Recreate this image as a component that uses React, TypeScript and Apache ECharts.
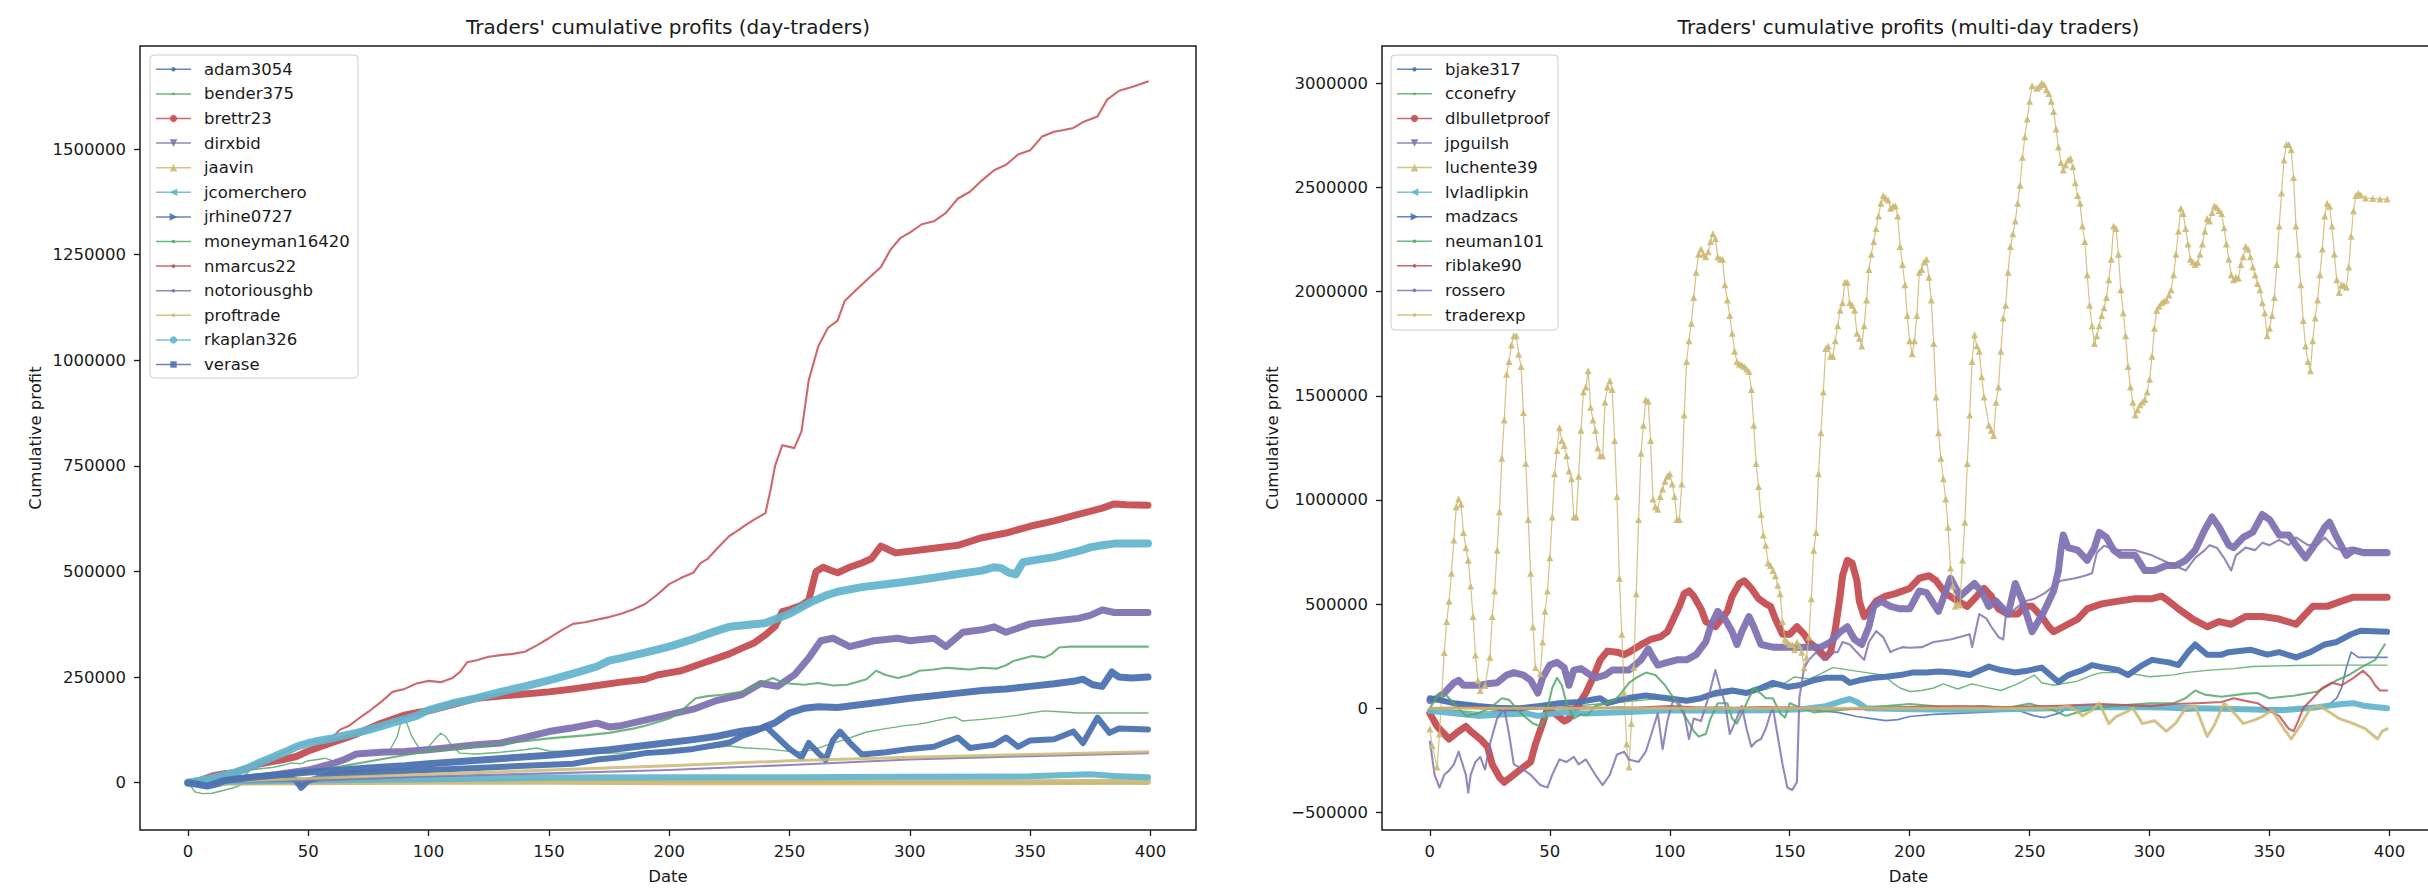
import React, { useEffect, useRef } from "react";
import * as echarts from "echarts";

// ---------- DATA (day, cumulative profit in thousands) ----------
// Left panel: day-traders
const adam3054 = [[0,0],[5,-8],[10,-12],[15,-5],[20,0],[30,1],[40,2],[47,-8],[50,2],[60,3],[80,4],[100,5],[150,5],[200,3],[250,2],[300,2],[350,0],[399,-2]];
const bender375 = [[0,0],[3,-22],[6,-26],[10,-25],[15,-18],[19,-12],[22,-5],[24,20],[26,30],[30,33],[35,36],[40,42],[43,47],[47,45],[50,52],[54,55],[57,58],[60,52],[64,48],[67,58],[70,65],[75,68],[80,72],[84,78],[87,110],[89,155],[91,140],[93,110],[96,82],[100,85],[103,105],[105,117],[107,110],[110,85],[113,70],[120,68],[130,72],[140,78],[145,82],[150,75],[160,72],[170,70],[180,70],[190,72],[200,75],[210,78],[220,84],[225,87],[232,82],[240,80],[247,76],[253,72],[258,76],[262,82],[267,92],[272,100],[277,110],[282,120],[290,128],[298,135],[303,138],[307,142],[312,148],[316,153],[319,155],[322,146],[326,148],[330,150],[337,154],[345,160],[350,165],[356,170],[362,168],[370,165],[380,165],[390,165],[399,165]];
const brettr23 = [[0,0],[5,5],[10,12],[15,20],[20,25],[25,35],[30,45],[35,50],[40,55],[45,62],[50,75],[55,85],[60,95],[65,105],[70,115],[75,128],[80,140],[85,150],[90,160],[95,166],[100,170],[110,185],[120,200],[130,205],[140,210],[150,215],[160,222],[170,230],[180,238],[190,245],[195,255],[200,260],[205,265],[210,275],[215,285],[220,295],[225,305],[230,318],[235,330],[240,350],[244,370],[247,405],[250,410],[255,420],[258,432],[261,500],[264,510],[267,503],[270,497],[275,510],[280,520],[284,530],[288,560],[291,552],[294,544],[300,548],[310,555],[320,562],[330,580],[340,591],[350,607],[360,620],[370,635],[380,650],[385,660],[390,658],[399,657]];
const dirxbid = [[0,0],[10,3],[20,8],[30,14],[40,22],[50,30],[60,45],[65,55],[70,68],[80,72],[90,74],[100,78],[110,84],[115,87],[120,90],[130,94],[140,107],[150,121],[160,130],[170,141],[175,132],[180,135],[190,148],[200,161],[210,174],[220,195],[230,208],[238,235],[245,228],[252,255],[258,295],[263,336],[268,342],[275,322],[285,336],[295,342],[300,336],[310,342],[315,322],[322,356],[330,362],[335,369],[340,356],[350,376],[360,383],[370,389],[375,396],[380,409],[385,403],[399,403]];
const jaavin = [[0,0],[50,1],[100,2],[150,2],[200,1],[250,1],[300,1],[350,1],[399,2]];
const jcomerchero = [[0,0],[20,3],[50,5],[100,8],[150,12],[200,13],[250,13],[300,14],[350,15],[365,18],[375,20],[385,16],[399,13]];
const jrhine0727 = [[0,0],[10,5],[20,10],[30,15],[40,18],[45,5],[47,-12],[50,5],[60,20],[80,25],[100,30],[120,35],[140,40],[160,45],[170,55],[180,60],[190,70],[200,74],[210,80],[220,90],[225,95],[230,110],[235,120],[240,134],[245,107],[250,80],[255,60],[258,94],[262,70],[265,54],[268,100],[271,121],[275,95],[280,67],[290,72],[300,80],[310,85],[320,107],[325,82],[335,90],[340,107],[345,85],[350,100],[360,103],[368,121],[372,94],[378,154],[383,118],[387,128],[399,126]];
const moneyman16420 = [[0,0],[25,10],[50,25],[75,50],[100,75],[110,80],[125,90],[140,98],[150,105],[165,112],[175,118],[185,128],[190,135],[196,145],[200,152],[204,165],[208,185],[211,200],[216,205],[222,208],[230,215],[236,228],[240,240],[243,248],[247,238],[250,235],[256,232],[262,236],[268,230],[274,232],[282,245],[286,265],[290,255],[295,248],[300,255],[304,265],[310,268],[315,272],[320,270],[325,268],[330,272],[336,270],[340,278],[343,288],[347,294],[351,300],[356,296],[359,305],[362,320],[366,322],[372,322],[380,322],[390,322],[399,322]];
const nmarcus22 = [[0,0],[5,12],[10,22],[15,27],[20,26],[25,35],[30,48],[35,60],[40,72],[45,85],[50,95],[55,100],[60,107],[63,125],[67,135],[71,152],[75,168],[80,190],[85,215],[90,222],[95,235],[100,241],[105,238],[110,248],[113,262],[116,285],[120,290],[125,298],[130,302],[135,305],[140,310],[145,325],[150,342],[155,360],[160,376],[165,380],[170,386],[175,392],[180,400],[185,410],[190,423],[195,445],[200,470],[205,485],[210,497],[213,520],[216,530],[220,555],[225,584],[228,595],[232,611],[236,625],[240,638],[242,690],[244,750],[247,799],[250,795],[252,792],[255,832],[258,953],[262,1034],[266,1077],[270,1094],[273,1141],[278,1168],[283,1195],[288,1221],[292,1262],[296,1289],[300,1302],[305,1322],[310,1329],[315,1349],[320,1383],[325,1399],[330,1426],[335,1450],[340,1463],[345,1487],[350,1497],[355,1530],[360,1541],[364,1545],[368,1550],[372,1564],[378,1577],[382,1617],[387,1638],[393,1648],[399,1660]];
const notoriousghb = [[0,0],[50,5],[100,15],[150,22],[200,30],[250,42],[300,55],[350,63],[399,70]];
const proftrade = [[0,0],[50,10],[100,20],[150,30],[200,40],[250,52],[300,60],[350,67],[399,73]];
const rkaplan326 = [[0,0],[5,5],[10,10],[15,18],[20,25],[25,35],[30,48],[35,60],[40,72],[45,85],[50,94],[55,100],[60,105],[65,112],[70,118],[75,125],[80,133],[85,142],[90,150],[95,158],[100,172],[110,188],[120,200],[130,215],[140,228],[150,242],[160,258],[170,275],[175,289],[180,295],[190,308],[200,322],[210,340],[220,360],[225,369],[230,372],[240,378],[250,400],[258,425],[265,443],[270,452],[280,463],[290,470],[300,477],[310,485],[320,494],[330,502],[335,510],[338,508],[341,498],[344,493],[347,522],[350,525],[360,534],[370,548],[375,557],[380,562],[385,566],[399,566]];
const verase = [[0,0],[8,-8],[15,5],[25,12],[40,20],[50,25],[60,28],[75,35],[90,40],[100,45],[125,55],[150,65],[175,78],[200,95],[210,102],[220,110],[230,122],[238,128],[244,142],[250,165],[256,176],[262,180],[270,178],[280,185],[290,192],[300,200],[310,206],[320,212],[330,218],[340,222],[350,228],[360,234],[368,240],[372,245],[376,232],[380,228],[384,262],[387,250],[392,248],[399,250]];

// Right panel: multi-day traders
const bjake317 = [[0,36],[5,45],[10,30],[20,15],[30,10],[40,5],[50,0],[60,-5],[70,0],[80,5],[90,0],[100,-5],[110,0],[120,5],[130,0],[140,-5],[150,0],[160,-10],[170,-20],[178,-40],[184,-50],[190,-60],[195,-55],[200,-40],[210,-30],[220,-25],[232,-19],[245,-10],[252,-37],[256,-45],[262,-25],[266,0],[275,11],[290,5],[305,0],[315,-13],[330,-5],[350,0],[365,-5],[374,10],[378,48],[380,97],[382,195],[384,269],[387,244],[399,244]];
const cconefry = [[0,0],[10,-10],[20,-20],[30,-15],[40,-5],[50,0],[60,10],[70,20],[80,30],[90,40],[100,50],[110,40],[120,60],[130,80],[140,90],[148,120],[152,150],[158,140],[162,160],[168,195],[175,183],[182,171],[189,159],[193,120],[196,97],[200,80],[205,85],[210,97],[214,117],[220,92],[226,117],[232,100],[238,85],[245,117],[252,159],[255,122],[260,110],[270,130],[276,159],[280,171],[290,171],[300,151],[310,160],[315,171],[325,183],[335,190],[343,200],[360,205],[375,207],[399,207]];
const dlbulletproof = [[0,-25],[3,-87],[6,-124],[8,-148],[12,-111],[15,-87],[17,-111],[21,-148],[24,-185],[26,-270],[29,-332],[31,-356],[35,-320],[39,-283],[42,-258],[44,-173],[47,-74],[49,-1],[52,-25],[56,-62],[58,-50],[61,-1],[65,73],[68,146],[71,232],[74,274],[78,269],[81,257],[83,269],[88,305],[92,330],[96,342],[99,367],[101,416],[104,489],[106,550],[108,563],[110,538],[113,477],[115,416],[119,391],[124,465],[126,538],[129,599],[131,612],[134,575],[137,526],[140,501],[142,489],[144,428],[147,355],[150,355],[153,391],[156,355],[158,318],[162,281],[165,244],[167,269],[169,379],[171,538],[172,636],[174,710],[176,697],[178,612],[179,514],[181,440],[183,465],[186,514],[190,538],[194,550],[200,575],[204,624],[208,636],[211,612],[215,550],[220,514],[224,489],[228,538],[231,575],[234,538],[237,477],[241,452],[245,452],[248,489],[251,489],[255,440],[258,391],[260,367],[264,391],[270,428],[274,477],[280,501],[287,514],[294,526],[301,526],[305,538],[308,514],[312,477],[318,428],[324,391],[329,416],[334,403],[340,440],[347,440],[354,428],[361,403],[364,440],[368,489],[374,489],[380,514],[385,533],[399,533]];
const jpguilsh = [[0,36],[3,48],[6,73],[10,122],[12,134],[14,110],[17,110],[21,110],[24,117],[28,122],[32,159],[35,171],[39,159],[42,134],[45,73],[47,146],[50,207],[53,220],[56,195],[58,110],[60,183],[63,190],[67,159],[69,146],[73,159],[76,183],[80,183],[83,183],[88,232],[91,285],[93,244],[95,207],[99,220],[103,232],[107,232],[111,257],[115,318],[117,391],[120,465],[123,428],[126,367],[128,306],[130,367],[133,440],[135,391],[138,306],[143,293],[147,293],[152,293],[158,293],[163,293],[167,318],[171,367],[174,391],[177,330],[180,306],[183,391],[185,489],[188,514],[192,489],[196,477],[200,477],[204,563],[207,555],[212,465],[217,624],[221,538],[227,599],[230,560],[233,489],[236,514],[241,452],[244,599],[247,514],[251,367],[256,465],[260,563],[262,661],[263,759],[264,832],[266,771],[270,759],[274,710],[277,771],[279,845],[282,820],[285,759],[288,734],[294,734],[298,661],[302,661],[307,685],[311,685],[315,710],[319,759],[323,857],[326,918],[329,869],[333,783],[335,771],[339,820],[343,845],[347,930],[350,906],[354,832],[358,832],[361,783],[365,722],[368,771],[373,869],[375,893],[378,820],[382,734],[385,759],[389,747],[399,747]];
const luchente39 = [[0,-100],[1,-180],[3,-283],[4,-124],[6,268],[7,416],[8,514],[9,648],[10,808],[11,967],[12,1004],[13,979],[14,844],[15,771],[16,710],[17,587],[18,440],[19,256],[20,134],[21,85],[23,109],[25,244],[26,440],[27,563],[28,759],[29,943],[30,1200],[31,1384],[32,1604],[33,1665],[34,1744],[35,1788],[36,1788],[37,1700],[38,1641],[39,1420],[40,1175],[41,906],[42,648],[43,391],[44,195],[46,165],[47,318],[48,465],[49,563],[50,722],[51,918],[52,1126],[53,1237],[54,1347],[55,1286],[56,1261],[57,1212],[58,1139],[59,1102],[60,918],[61,918],[62,1114],[63,1335],[64,1518],[65,1543],[66,1621],[67,1445],[68,1384],[69,1335],[70,1249],[71,1212],[72,1212],[73,1469],[74,1543],[75,1572],[76,1531],[77,1286],[78,1016],[79,624],[80,355],[81,73],[82,-172],[83,-283],[84,-74],[85,195],[86,550],[87,906],[88,1224],[89,1359],[90,1482],[91,1474],[92,1286],[93,1004],[94,967],[95,955],[96,1016],[97,1053],[98,1090],[99,1114],[100,1126],[101,1077],[102,1016],[103,906],[104,906],[105,1077],[106,1408],[107,1665],[108,1764],[109,1849],[110,1972],[111,2094],[112,2180],[113,2205],[114,2180],[115,2168],[116,2192],[117,2241],[118,2278],[119,2254],[120,2168],[121,2156],[122,2156],[123,2033],[124,1960],[125,1886],[126,1800],[127,1714],[128,1665],[129,1653],[130,1648],[131,1641],[132,1629],[133,1617],[134,1531],[135,1359],[136,1175],[137,1065],[138,930],[139,832],[140,783],[141,697],[142,685],[143,661],[144,636],[145,590],[146,550],[147,416],[148,330],[149,318],[150,306],[151,306],[152,281],[153,318],[154,300],[155,269],[156,195],[157,244],[158,342],[159,526],[160,759],[161,844],[162,1126],[163,1323],[164,1518],[165,1727],[166,1739],[167,1690],[168,1690],[169,1764],[170,1837],[171,1911],[172,1947],[173,2045],[174,2045],[175,1947],[176,1935],[177,1911],[178,1800],[179,1776],[180,1739],[181,1837],[182,1960],[183,2107],[184,2180],[185,2241],[186,2303],[187,2364],[188,2425],[189,2462],[190,2450],[191,2440],[192,2401],[193,2410],[194,2413],[195,2364],[196,2217],[197,2131],[198,2033],[199,1886],[200,1764],[201,1702],[202,1764],[203,1886],[204,2094],[205,2107],[206,2143],[207,2156],[208,2070],[209,1960],[210,1751],[211,1494],[212,1323],[213,1200],[214,1102],[215,1004],[216,869],[217,673],[218,587],[219,489],[220,501],[221,495],[222,710],[223,893],[224,1175],[225,1408],[226,1665],[227,1793],[228,1739],[229,1714],[230,1592],[231,1494],[233,1359],[234,1335],[235,1310],[236,1469],[237,1543],[238,1714],[239,1874],[240,1935],[241,2094],[242,2217],[243,2278],[244,2339],[245,2425],[246,2511],[247,2646],[248,2744],[249,2830],[250,2915],[251,2989],[253,2977],[254,2985],[255,3001],[256,2995],[257,2970],[258,2952],[259,2915],[260,2866],[261,2781],[262,2695],[263,2621],[264,2584],[265,2609],[266,2633],[267,2641],[268,2600],[269,2523],[270,2462],[271,2425],[272,2315],[273,2241],[274,2082],[275,1935],[276,1837],[277,1751],[278,1788],[279,1837],[280,1886],[281,1923],[282,1972],[283,2058],[284,2156],[285,2315],[286,2303],[287,2180],[288,2009],[289,1898],[290,1788],[291,1641],[292,1543],[293,1469],[294,1408],[295,1433],[296,1457],[297,1470],[298,1482],[299,1518],[300,1580],[301,1690],[302,1825],[303,1911],[304,1930],[305,1947],[306,1955],[307,1960],[308,1984],[309,2009],[310,2082],[311,2180],[312,2290],[313,2401],[314,2376],[315,2303],[316,2229],[317,2156],[318,2143],[319,2131],[320,2140],[321,2180],[322,2229],[323,2290],[324,2352],[325,2339],[326,2381],[327,2413],[328,2405],[329,2390],[330,2376],[331,2307],[332,2229],[333,2156],[334,2082],[335,2058],[336,2070],[337,2065],[338,2131],[339,2168],[340,2217],[341,2205],[342,2168],[343,2119],[344,2080],[345,2040],[346,2009],[347,1947],[348,1898],[349,1788],[350,1825],[351,1886],[352,1972],[353,2131],[354,2315],[355,2474],[356,2633],[357,2707],[358,2707],[359,2682],[360,2548],[361,2315],[362,2180],[363,2033],[364,1862],[365,1739],[366,1665],[367,1621],[368,1764],[369,1874],[370,1960],[371,2082],[372,2205],[373,2364],[374,2425],[375,2410],[376,2315],[377,2180],[378,2058],[379,1996],[380,2033],[381,2030],[382,2021],[383,2119],[384,2266],[385,2389],[386,2462],[387,2474],[388,2465],[390,2450],[393,2448],[396,2445],[399,2445]];
const lvladlipkin = [[0,-13],[10,-25],[20,-37],[30,-30],[40,-25],[45,-37],[55,-20],[65,-25],[80,-20],[90,-15],[100,-10],[120,-12],[140,-10],[155,-5],[165,10],[172,35],[175,44],[178,30],[182,0],[200,-5],[220,-8],[240,-5],[260,0],[280,5],[300,5],[320,0],[340,-5],[355,-10],[370,5],[380,20],[385,24],[390,10],[399,0]];
const madzacs = [[0,48],[5,36],[10,24],[20,10],[30,0],[38,0],[46,11],[54,24],[62,30],[71,48],[74,24],[82,48],[90,61],[99,48],[107,36],[113,48],[119,73],[126,85],[132,73],[138,97],[143,122],[149,102],[154,110],[160,134],[165,146],[172,146],[175,122],[179,134],[185,146],[190,151],[196,159],[201,171],[207,171],[212,176],[218,171],[225,159],[233,200],[238,183],[244,171],[249,180],[255,195],[262,126],[266,159],[272,183],[276,207],[281,195],[287,183],[291,159],[297,207],[301,232],[308,220],[312,207],[316,269],[319,306],[324,257],[330,257],[333,269],[342,281],[349,257],[354,269],[361,244],[367,269],[373,306],[378,318],[384,355],[388,372],[399,367]];
const neuman101 = [[0,0],[4,73],[7,60],[10,24],[15,-37],[20,-25],[25,0],[30,48],[33,40],[38,-25],[43,-74],[46,-87],[48,-50],[51,97],[53,146],[55,110],[57,24],[60,-50],[63,-30],[66,-30],[69,11],[73,20],[77,40],[79,61],[83,122],[86,146],[90,171],[94,159],[98,110],[103,24],[107,-50],[110,-111],[112,-136],[115,-124],[117,-50],[120,24],[124,24],[126,-50],[128,-74],[132,24],[135,97],[138,70],[140,48],[143,48],[146,-25],[148,-45],[150,24],[155,0],[160,-20],[170,-10],[180,0],[190,10],[200,20],[210,10],[220,0],[230,10],[240,0],[250,22],[260,-10],[265,-37],[270,-20],[280,5],[290,15],[300,24],[310,24],[315,48],[319,85],[323,65],[330,55],[340,70],[345,73],[350,48],[360,60],[370,80],[378,134],[383,159],[388,195],[394,232],[398,306]];
const riblake90 = [[0,0],[20,5],[40,-5],[60,5],[80,0],[100,10],[120,0],[140,5],[160,0],[180,-5],[200,5],[220,10],[240,5],[260,10],[270,15],[280,20],[290,15],[300,10],[310,20],[320,24],[330,30],[335,48],[340,35],[345,24],[350,-13],[354,-37],[358,-99],[360,-110],[362,-60],[364,0],[368,48],[372,97],[376,122],[380,110],[385,146],[389,180],[392,146],[394,110],[396,85],[399,85]];
const rossero = [[0,-160],[2,-320],[4,-381],[6,-320],[8,-300],[10,-270],[12,-209],[15,-320],[16,-406],[17,-320],[19,-258],[21,-234],[23,-295],[25,-173],[28,-50],[31,0],[33,-124],[35,-270],[39,-295],[42,-320],[46,-369],[49,-381],[51,-320],[54,-246],[57,-258],[60,-234],[62,-270],[65,-246],[69,-320],[72,-369],[75,-320],[78,-222],[81,-209],[83,-246],[87,-258],[90,-209],[93,-99],[95,-25],[97,-197],[99,-62],[101,24],[103,48],[106,-25],[108,-148],[110,-50],[113,-62],[116,48],[119,183],[121,97],[123,24],[125,-124],[127,-74],[130,11],[132,-99],[134,-185],[136,-160],[138,-148],[140,-99],[142,-25],[143,0],[145,-136],[147,-270],[149,-381],[151,-393],[153,-356],[154,48],[156,195],[158,232],[161,269],[164,232],[167,269],[170,269],[172,318],[175,306],[178,269],[181,232],[183,318],[186,370],[189,340],[192,269],[194,281],[197,293],[200,290],[205,293],[210,318],[217,330],[225,355],[226,293],[229,452],[232,430],[234,391],[237,342],[239,330],[240,440],[244,477],[248,514],[252,526],[256,550],[260,587],[263,612],[269,624],[273,636],[276,648],[278,747],[281,780],[286,759],[294,759],[301,734],[308,697],[315,661],[319,722],[323,759],[325,783],[328,771],[331,722],[334,661],[336,734],[340,771],[344,759],[347,795],[350,783],[354,808],[358,783],[361,820],[366,783],[370,783],[373,820],[377,771],[380,759],[384,771],[389,759],[399,759]];
const traderexp = [[0,0],[50,0],[100,0],[150,0],[200,0],[250,0],[262,2],[266,11],[270,-15],[272,-37],[276,-10],[279,24],[283,-74],[286,-40],[290,-20],[293,0],[297,-74],[302,-60],[307,-111],[311,-70],[315,0],[319,10],[324,-136],[327,-80],[331,24],[335,-20],[339,-74],[343,-60],[347,-40],[351,-10],[356,-99],[359,-148],[363,-80],[367,0],[371,11],[375,-20],[379,-50],[385,-74],[390,-99],[395,-148],[397,-110],[399,-99]];

const LEFT_NAMES = ["adam3054","bender375","brettr23","dirxbid","jaavin","jcomerchero","jrhine0727","moneyman16420","nmarcus22","notoriousghb","proftrade","rkaplan326","verase"];
const LEFT_DATA = [adam3054,bender375,brettr23,dirxbid,jaavin,jcomerchero,jrhine0727,moneyman16420,nmarcus22,notoriousghb,proftrade,rkaplan326,verase];
const RIGHT_NAMES = ["bjake317","cconefry","dlbulletproof","jpguilsh","luchente39","lvladlipkin","madzacs","neuman101","riblake90","rossero","traderexp"];
const RIGHT_DATA = [bjake317,cconefry,dlbulletproof,jpguilsh,luchente39,lvladlipkin,madzacs,neuman101,riblake90,rossero,traderexp];

const X_TICKS = [0,50,100,150,200,250,300,350,400];
const LEFT_Y_TICKS = [0,250000,500000,750000,1000000,1250000,1500000];
const RIGHT_Y_TICKS = [-500000,0,500000,1000000,1500000,2000000,2500000,3000000];

const TITLES = ["Traders' cumulative profits (day-traders)", "Traders' cumulative profits (multi-day traders)"];
const X_NAME = "Date";
const Y_NAME = "Cumulative profit";

// ---------- STYLE ----------
const PALETTE = ["#4C72B0","#55A868","#C44E52","#8172B2","#CCB974","#64B5CD"];
const MARKERS = [".", ",", "o", "v", "^", "<", ">", "1", "2", "3", "4", "8", "s"];
const FONT = "'DejaVu Sans', 'Liberation Sans', sans-serif";
const TXT = "#1a1a1a";

const GRIDS = [
  { left: 140, top: 46, width: 1056, height: 784 },
  { left: 1382, top: 46, width: 1053, height: 784 },
];
const X_RANGE = [-19.95, 418.95];
const Y_RANGES = [[-112000, 1744000], [-585000, 3180000]];
const Y_NAME_X = [35, 1272];

function bandWidth(m: string) {
  switch (m) {
    case "o": return 7;
    case "8": return 8;
    case "v": return 7;
    case "s": return 7;
    case "^": return 6;
    case "<": return 6;
    case ">": return 6;
    case ",": return 1.4;
    case ".": return 1.7;
    default: return 2.1;
  }
}

function makeSeries(names: string[], datas: number[][][], panel: number) {
  return names.map((name, i) => {
    const m = MARKERS[i];
    const color = PALETTE[i % 6];
    const triangles = name === "luchente39";
    let width = bandWidth(m);
    if (triangles) width = 1.2;
    if (name === "traderexp") width = 3;
    if (name === "proftrade") width = 3;
    return {
      type: "line",
      name,
      xAxisIndex: panel,
      yAxisIndex: panel,
      data: datas[i].map(([d, v]) => [d, v * 1000]),
      symbol: triangles ? "triangle" : "none",
      symbolSize: 7,
      showSymbol: triangles,
      showAllSymbol: true,
      lineStyle: { color, width, opacity: width > 3 ? 0.95 : 0.85, cap: "round", join: "round" },
      itemStyle: { color, opacity: 0.9 },
      emphasis: { disabled: true },
      silent: true,
      z: 2,
    };
  });
}

function markerEl(m: string, cx: number, cy: number, color: string) {
  const r = 3.8;
  const base = { silent: true, z: 101, style: { fill: color, opacity: 0.9 } };
  switch (m) {
    case "o":
    case "8":
      return { ...base, type: "circle", shape: { cx, cy, r: 3.6 } };
    case "s":
      return { ...base, type: "rect", shape: { x: cx - 3.2, y: cy - 3.2, width: 6.4, height: 6.4 } };
    case "^":
      return { ...base, type: "polygon", shape: { points: [[cx, cy - r], [cx - r, cy + r], [cx + r, cy + r]] } };
    case "v":
      return { ...base, type: "polygon", shape: { points: [[cx, cy + r], [cx - r, cy - r], [cx + r, cy - r]] } };
    case "<":
      return { ...base, type: "polygon", shape: { points: [[cx - r, cy], [cx + r, cy - r], [cx + r, cy + r]] } };
    case ">":
      return { ...base, type: "polygon", shape: { points: [[cx + r, cy], [cx - r, cy - r], [cx - r, cy + r]] } };
    case ",":
      return { ...base, type: "rect", shape: { x: cx - 1.2, y: cy - 1.2, width: 2.4, height: 2.4 } };
    case ".":
      return { ...base, type: "circle", shape: { cx, cy, r: 2.2 } };
    default:
      return { ...base, type: "circle", shape: { cx, cy, r: 1.8 } };
  }
}

function legendEls(names: string[], box: { x: number; y: number; w: number; h: number }, lineX0: number, lineX1: number, textX: number, firstY: number, step: number) {
  const els: any[] = [
    {
      type: "rect",
      silent: true,
      z: 100,
      shape: { x: box.x, y: box.y, width: box.w, height: box.h, r: 4 },
      style: { fill: "rgba(255,255,255,0.85)", stroke: "#cccccc", lineWidth: 1 },
    },
  ];
  names.forEach((name, i) => {
    const y = firstY + step * i;
    const color = PALETTE[i % 6];
    els.push({
      type: "line",
      silent: true,
      z: 101,
      shape: { x1: lineX0, y1: y, x2: lineX1, y2: y },
      style: { stroke: color, lineWidth: 1.5, opacity: 0.85 },
    });
    els.push(markerEl(MARKERS[i], (lineX0 + lineX1) / 2, y, color));
    els.push({
      type: "text",
      silent: true,
      z: 101,
      x: textX,
      y,
      style: { text: name, fill: TXT, font: `16.5px ${FONT}`, textAlign: "left", textVerticalAlign: "middle" },
    });
  });
  return els;
}

function fmt(v: number) {
  return v < 0 ? "\u2212" + String(-v) : String(v);
}

function makeAxes() {
  const xAxis = GRIDS.map((_, p) => ({
    type: "value",
    gridIndex: p,
    min: X_RANGE[0],
    max: X_RANGE[1],
    name: X_NAME,
    nameLocation: "middle",
    nameGap: 38,
    nameTextStyle: { color: TXT, fontSize: 16.5, fontFamily: FONT },
    axisLine: { show: false, onZero: false },
    splitLine: { show: false },
    minorTick: { show: false },
    axisTick: { show: true, inside: false, length: 6, lineStyle: { color: TXT, width: 1.3 }, customValues: X_TICKS },
    axisLabel: { show: true, margin: 13, color: TXT, fontSize: 16.5, fontFamily: FONT, customValues: X_TICKS, overflow: "none", hideOverlap: false, formatter: (v: number) => fmt(v) },
  }));
  const yAxis = GRIDS.map((_, p) => ({
    type: "value",
    gridIndex: p,
    min: Y_RANGES[p][0],
    max: Y_RANGES[p][1],
    axisLine: { show: false, onZero: false },
    splitLine: { show: false },
    minorTick: { show: false },
    axisTick: { show: true, inside: false, length: 6, lineStyle: { color: TXT, width: 1.3 }, customValues: p === 0 ? LEFT_Y_TICKS : RIGHT_Y_TICKS },
    axisLabel: { show: true, margin: 14, color: TXT, fontSize: 16.5, fontFamily: FONT, customValues: p === 0 ? LEFT_Y_TICKS : RIGHT_Y_TICKS, overflow: "none", hideOverlap: false, formatter: (v: number) => fmt(v) },
  }));
  return { xAxis, yAxis };
}

export default function App() {
  const ref = useRef<HTMLDivElement>(null);
  useEffect(() => {
    if (!ref.current) return;
    const chart = echarts.init(ref.current, undefined, { renderer: "svg" });
    const { xAxis, yAxis } = makeAxes();
    const titleEls = TITLES.map((t, p) => ({
      type: "text",
      silent: true,
      z: 101,
      x: GRIDS[p].left + GRIDS[p].width / 2,
      y: 27,
      style: { text: t, fill: TXT, font: `20px ${FONT}`, textAlign: "center", textVerticalAlign: "middle" },
    }));
    const yNameEls = GRIDS.map((g, p) => ({
      type: "text",
      silent: true,
      z: 101,
      x: Y_NAME_X[p],
      y: g.top + g.height / 2,
      rotation: Math.PI / 2,
      style: { text: Y_NAME, fill: TXT, font: `16.5px ${FONT}`, textAlign: "center", textVerticalAlign: "middle" },
    }));
    const option: any = {
      animation: false,
      backgroundColor: "#ffffff",
      grid: GRIDS.map((g) => ({ ...g, show: true, borderColor: "#1a1a1a", borderWidth: 1.5, backgroundColor: "transparent", containLabel: false, outerBoundsMode: "none" })),
      xAxis,
      yAxis,
      series: [...makeSeries(LEFT_NAMES, LEFT_DATA, 0), ...makeSeries(RIGHT_NAMES, RIGHT_DATA, 1)],
      graphic: {
        elements: [
          ...titleEls,
          ...yNameEls,
          ...legendEls(LEFT_NAMES, { x: 150, y: 55, w: 208, h: 323 }, 156, 191, 204, 69.3, 24.6),
          ...legendEls(RIGHT_NAMES, { x: 1391, y: 55, w: 167, h: 275 }, 1397, 1432, 1445, 69.3, 24.57),
        ],
      },
    };
    chart.setOption(option);
    return () => chart.dispose();
  }, []);
  return <div ref={ref} style={{ position: "fixed", left: 0, top: 0, width: 2444, height: 890, background: "#fff" }} />;
}
